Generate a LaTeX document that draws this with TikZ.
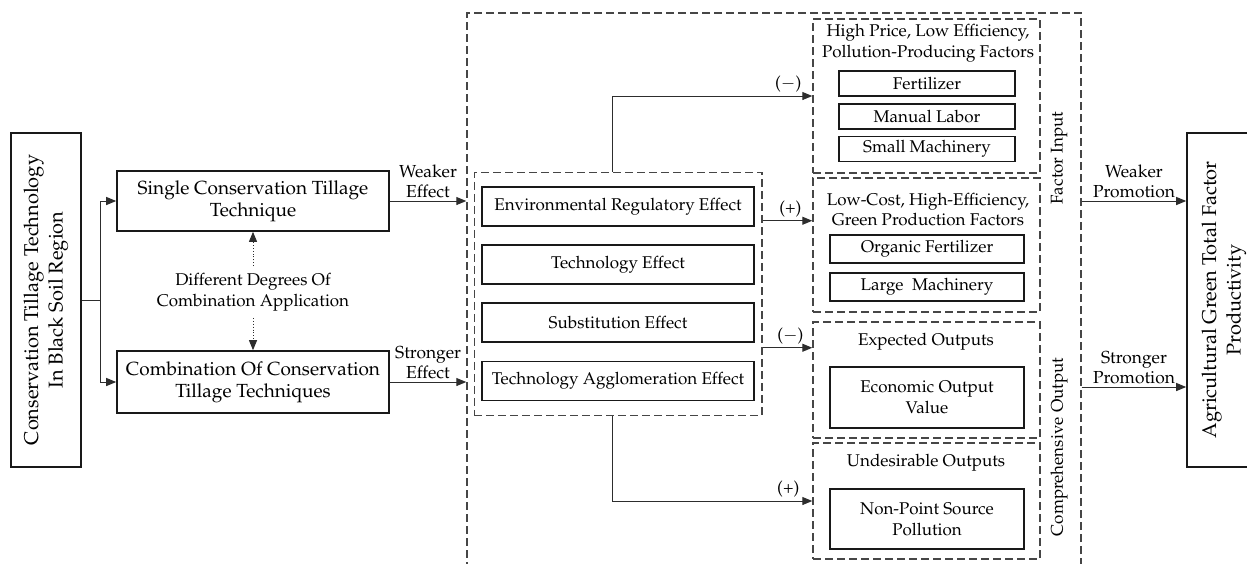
\documentclass[tikz,border=0pt]{standalone}
\usepackage[T1]{fontenc}
\usepackage{mathpazo}
\usetikzlibrary{arrows.meta, positioning, fit}

\definecolor{linegray}{RGB}{45,45,45}
\definecolor{dashgray}{RGB}{70,70,70}

\begin{document}
\begin{tikzpicture}[
    x=0.5pt, y=-0.5pt,
    every node/.style={font=\fontsize{8.5}{10.3}\selectfont, align=center},
    box/.style={draw=black!90, line width=0.8pt, inner sep=1pt},
    bigbox/.style={box, font=\fontsize{10}{12.3}\selectfont},
    stagebox/.style={box, minimum width=136pt, font=\fontsize{9.5}{11}\selectfont},
    effbox/.style={box, minimum width=136pt, minimum height=19.5pt},
    itembox/.style={box, minimum width=88pt, minimum height=12.5pt},
    dashbox/.style={draw=dashgray, line width=0.7pt, dash pattern=on 4pt off 2pt, inner sep=0pt},
    groupbox/.style={dashbox, minimum width=113.5pt},
    link/.style={draw=linegray, line width=0.5pt},
    arr/.style={link, -{Triangle[length=5pt,width=4pt]}},
    dotarr/.style={draw=linegray, line width=0.45pt, densely dotted, -{Triangle[length=5pt,width=4pt]}},
    lbl/.style={inner sep=1.5pt, font=\fontsize{8.7}{9.6}\selectfont}
]
  \useasboundingbox (0,0) rectangle (1247,563);
  \clip (0,0) rectangle (1247,563);

  % left part
  \node[bigbox, rotate=90, minimum width=167pt, minimum height=35pt] (region) at (46,300) {Conservation Tillage Technology\\In Black Soil Region};
  \node[stagebox, minimum height=30pt] (single) at (253,201) {Single Conservation Tillage\\Technique};
  \node[stagebox, minimum height=31pt] (combo) at (253,382) {Combination Of Conservation\\Tillage Techniques};
  \node (degrees) at (253,292) {Different Degrees Of\\Combination Application};

  \coordinate (split) at (100,300);
  \draw[link] (region.south) -- (split);
  \draw[arr] (split) |- (single.west);
  \draw[arr] (split) |- (combo.west);
  \draw[dotarr] (degrees) -- (single);
  \draw[dotarr] (degrees) -- (combo);

  % mechanism
  \node[dashbox, minimum width=307pt, minimum height=293.5pt] (outer) at (774,306.5) {};
  \node[effbox] (env) at (618,206.5) {Environmental Regulatory Effect};
  \node[effbox] (tech) at (618,264.5) {Technology Effect};
  \node[effbox] (subs) at (618,322.5) {Substitution Effect};
  \node[effbox] (aggl) at (618,381) {Technology Agglomeration Effect};
  \node[dashbox, fit=(env)(aggl), inner xsep=3.5pt, inner ysep=7pt] (effects) {};

  \draw[arr] (single.east) -- node[above, lbl] {Weaker\\Effect} (single.east -| outer.west);
  \draw[arr] (combo.east) -- node[above, lbl] {Stronger\\Effect} (combo.east -| outer.west);

  % factor input
  \node[groupbox, minimum height=77pt] (hp) at (926.5,96) {};
  \node (hptitle) at (928,43.5) {High Price, Low Efficiency,\\Pollution-Producing Factors};
  \node[itembox] (fert) at (927,83.5) {Fertilizer};
  \node[itembox] (labor) at (927,116.5) {Manual Labor};
  \node[itembox] (smallm) at (927,149) {Small Machinery};

  \node[groupbox, minimum height=67pt] (lc) at (926.5,245) {};
  \node (lctitle) at (928,209.5) {Low-Cost, High-Efficiency,\\Green Production Factors};
  \node[itembox, minimum width=97pt, minimum height=14pt] (organic) at (927,249) {Organic Fertilizer};
  \node[itembox, minimum width=97pt, minimum height=14pt] (largem) at (927,287) {Large\ \ Machinery};

  % comprehensive output
  \node[groupbox, minimum height=58pt] (eo) at (926.5,380) {};
  \node (eotitle) at (926,342) {Expected Outputs};
  \node[box, minimum width=97pt, minimum height=30.5pt] (econ) at (927,397.5) {Economic Output\\Value};

  \node[groupbox, minimum height=58pt] (uo) at (926.5,501) {};
  \node (uotitle) at (926,463) {Undesirable Outputs};
  \node[box, minimum width=97pt, minimum height=30pt] (nps) at (927,519) {Non-Point Source\\Pollution};

  \node[rotate=90] (finput) at (1059,158) {Factor Input};
  \node[rotate=90] (coutput) at (1059,447) {Comprehensive Output};

  \draw[arr] ([xshift=-3pt]effects.north) |- node[pos=0.94, above, lbl] {($-$)} (hp.west);
  \draw[arr] ([yshift=36.5pt]effects.east) -- node[pos=0.56, above, lbl] {(+)} ([yshift=36.5pt]effects.east -| lc.west);
  \draw[arr] ([yshift=-27pt]effects.east) -- node[pos=0.56, above, lbl] {($-$)} ([yshift=-27pt]effects.east -| eo.west);
  \draw[arr] ([xshift=-3pt]effects.south) |- node[pos=0.94, above, lbl] {(+)} (uo.west);

  % result
  \node[bigbox, rotate=90, minimum width=167pt, minimum height=37pt] (agtfp) at (1224,300) {Agricultural Green Total Factor\\Productivity};

  \draw[arr] (single.east -| outer.east) -- node[above, lbl] {Weaker\\Promotion} (single.east -| agtfp.north);
  \draw[arr] ([yshift=-2.5pt]combo.east -| outer.east) -- node[above, lbl] {Stronger\\Promotion} ([yshift=-2.5pt]combo.east -| agtfp.north);
\end{tikzpicture}
\end{document}
